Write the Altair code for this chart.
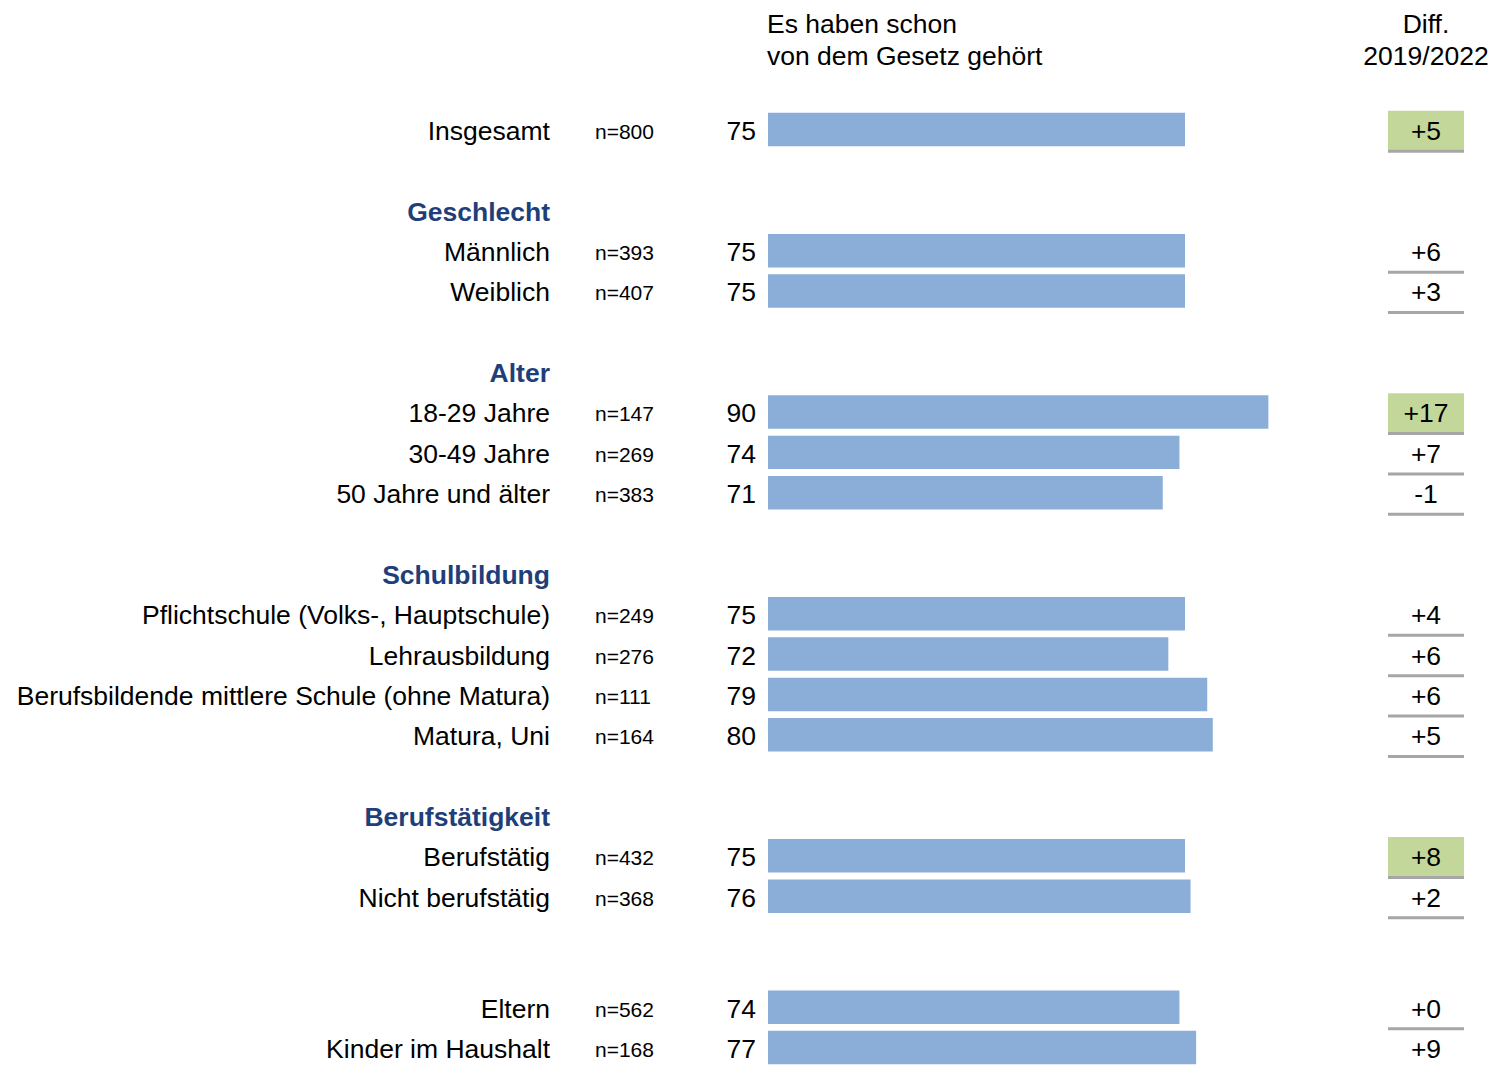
import altair as alt
import pandas as pd

# Item rows (row index = vertical slot; last block pulled up slightly to fit the page)
item_rows = [0, 3, 4, 7, 8, 9, 12, 13, 14, 15, 18, 19, 21.75, 22.75]
item_labels = [
    "Insgesamt", "Männlich", "Weiblich",
    "18-29 Jahre", "30-49 Jahre", "50 Jahre und älter",
    "Pflichtschule (Volks-, Hauptschule)", "Lehrausbildung",
    "Berufsbildende mittlere Schule (ohne Matura)", "Matura, Uni",
    "Berufstätig", "Nicht berufstätig", "Eltern", "Kinder im Haushalt",
]
n_labels = ["n=800", "n=393", "n=407", "n=147", "n=269", "n=383", "n=249",
            "n=276", "n=111", "n=164", "n=432", "n=368", "n=562", "n=168"]
values = [75, 75, 75, 90, 74, 71, 75, 72, 79, 80, 75, 76, 74, 77]
diffs = ["+5", "+6", "+3", "+17", "+7", "-1", "+4", "+6", "+6", "+5", "+8", "+2", "+0", "+9"]
highlight = [True, False, False, True, False, False, False, False, False, False,
             True, False, False, False]

# Group header rows
header_rows = [2, 6, 11, 17]
header_labels = ["Geschlecht", "Alter", "Schulbildung", "Berufstätigkeit"]

# Column titles
title_bar = ["Es haben schon", "von dem Gesetz gehört"]
title_diff = ["Diff.", "2019/2022"]

items = pd.DataFrame({
    "row": item_rows, "label": item_labels, "n": n_labels,
    "value": values, "diff": diffs, "hl": highlight,
})
items["top"] = items["row"] - 0.45
items["bot"] = items["row"] + 0.38
items["ctop"] = items["row"] - 0.5
items["cbot"] = items["row"] + 0.5
items["zero"] = 0

headers = pd.DataFrame({"row": header_rows, "label": header_labels})
titles = pd.DataFrame({
    "line": [0, 1, 0, 1],
    "text": title_bar + title_diff,
    "col": ["bar", "bar", "diff", "diff"],
})

FONT = "Liberation Sans"
FS = 26.5
DX = 1418  # centre of the diff column
yscale = alt.Scale(domain=[0, 23], range=[123, 1051], nice=False, zero=False)
xscale = alt.Scale(domain=[0, 100], range=[760, 1316], nice=False, zero=True)
Y = lambda f: alt.Y(f, type="quantitative", scale=yscale, axis=None)

base = alt.Chart(items)

bars = base.mark_bar(color="#8AAED8", cornerRadius=0).encode(
    x=alt.X("zero:Q", scale=xscale, axis=None),
    x2="value:Q",
    y=Y("top"),
    y2="bot:Q",
)

labels = base.mark_text(align="right", baseline="alphabetic", dy=9,
                        font=FONT, fontSize=FS, color="#000000").encode(
    x=alt.value(542), y=Y("row"), text="label:N")

nlab = base.mark_text(align="left", baseline="alphabetic", dy=8,
                      font=FONT, fontSize=21, color="#000000").encode(
    x=alt.value(587), y=Y("row"), text="n:N")

vals = base.mark_text(align="right", baseline="alphabetic", dy=9,
                      font=FONT, fontSize=FS, color="#000000").encode(
    x=alt.value(748), y=Y("row"), text="value:Q")

cells = base.transform_filter("datum.hl").mark_rect(color="#C4D79B").encode(
    x=alt.value(DX - 38), x2=alt.value(DX + 38), y=Y("ctop"), y2="cbot:Q")

lines = base.mark_rule(color="#A6A6A6", strokeWidth=3).encode(
    x=alt.value(DX - 38), x2=alt.value(DX + 38), y=Y("cbot"))

dtext = base.mark_text(align="center", baseline="alphabetic", dy=9,
                       font=FONT, fontSize=FS, color="#000000").encode(
    x=alt.value(DX), y=Y("row"), text="diff:N")

hdr = alt.Chart(headers).mark_text(align="right", baseline="alphabetic", dy=9,
                                   font=FONT, fontSize=FS, fontWeight="bold",
                                   color="#1F3F7A").encode(
    x=alt.value(542), y=Y("row"), text="label:N")

tscale = alt.Scale(domain=[0, 1], range=[25, 57])
tbar = alt.Chart(titles).transform_filter("datum.col == 'bar'").mark_text(
    align="left", baseline="alphabetic", font=FONT, fontSize=FS, color="#000000").encode(
    x=alt.value(759), y=alt.Y("line:Q", scale=tscale, axis=None), text="text:N")
tdiff = alt.Chart(titles).transform_filter("datum.col == 'diff'").mark_text(
    align="center", baseline="alphabetic", font=FONT, fontSize=FS, color="#000000").encode(
    x=alt.value(DX), y=alt.Y("line:Q", scale=tscale, axis=None), text="text:N")

chart = alt.layer(
    cells, lines, bars, labels, nlab, vals, dtext, hdr, tbar, tdiff
).resolve_scale(y="independent").properties(
    width=1481, height=1057, autosize=alt.AutoSizeParams(type="none"), padding=0
).configure_view(stroke=None)

chart.save("out.html", embed_options={"renderer": "svg", "actions": False})
